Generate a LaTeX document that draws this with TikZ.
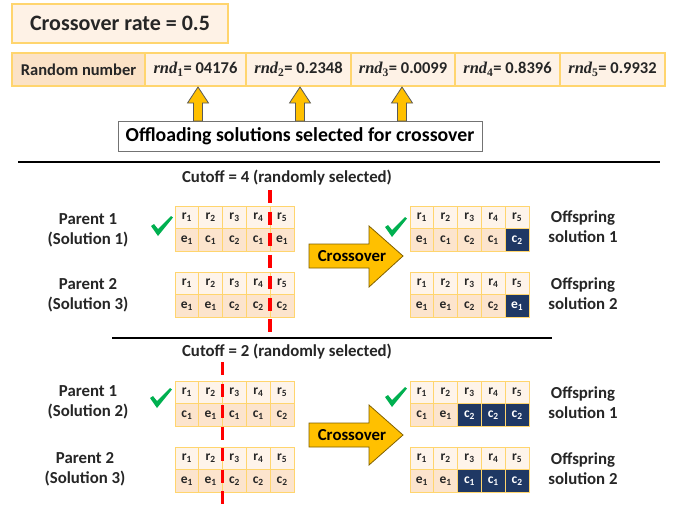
\documentclass[tikz,border=0pt]{standalone}
\usepackage{fontspec}
\setmainfont{Carlito}
\newfontfamily\rndf{Liberation Serif}
\usetikzlibrary{calc}
\definecolor{gold}{HTML}{FFD56E}
\definecolor{peach}{HTML}{FEF2E6}
\definecolor{peachd}{HTML}{FBE2C6}
\definecolor{celltop}{HTML}{FEF4EA}
\definecolor{cellbot}{HTML}{FCE4CD}
\definecolor{navy}{HTML}{1F3864}
\definecolor{amber}{HTML}{FFC000}
\definecolor{amberedge}{HTML}{7F6000}
\definecolor{okgreen}{HTML}{00B050}
\definecolor{txt}{HTML}{262626}
\newcommand\chrom[4]{%
  \foreach \k in {1,...,5}{\node[topcell] (#1t\k) at ({#2+(\k-0.5)*23.8},{#3+11.25}) {r\textsubscript{\k}};}
  \foreach \l/\d/\z [count=\k] in {#4}{%
    \ifnum\z=1\relax
      \node[darkcell] (#1b\k) at ({#2+(\k-0.5)*23.8},{#3+33.75}) {\l\textsubscript{\d}};
    \else
      \node[botcell] (#1b\k) at ({#2+(\k-0.5)*23.8},{#3+33.75}) {\l\textsubscript{\d}};
    \fi}}
\newcommand\rnd[2]{{\rndf\bfseries\itshape rnd}\textsubscript{\rndf\bfseries #1}= #2}
\tikzset{
  box/.style={draw=gold, line width=1.2pt, fill=peach, inner sep=0, text=txt,
    font=\fontsize{16.5}{18}\selectfont\bfseries},
  lab/.style={align=center, text=txt, inner sep=0, font=\fontsize{16.8}{20}\selectfont\bfseries},
  cell/.style={draw=gold, line width=0.8pt, minimum width=23.8pt, minimum height=22.5pt,
    inner sep=0, text=txt, font=\fontsize{13.5}{14}\selectfont\bfseries},
  topcell/.style={cell, fill=celltop},
  botcell/.style={cell, fill=cellbot},
  darkcell/.style={cell, fill=navy, text=white},
  cutline/.style={red, line width=3.5pt, dash pattern=on 13pt off 8.5pt},
  sepline/.style={black, line width=1.4pt},
  okmark/.pic={\fill[okgreen] (-11,0) -- (-8,-2) -- (-4,3) -- (9,-10) -- (11,-8.5) -- (-4,10) -- cycle;},
  uparr/.pic={\filldraw[fill=amber, draw=black!65, line width=0.8pt]
    (0,0) -- (10.5,16) -- (4.5,16) -- (4.5,34) -- (-4.5,34) -- (-4.5,16) -- (-10.5,16) -- cycle;},
}
\begin{document}
\begin{tikzpicture}[x=1pt,y=-1pt]
\useasboundingbox[fill=white] (0,0) rectangle (676,507);

% header
\node[box, minimum width=216pt, minimum height=39pt, font=\fontsize{22}{24}\selectfont\bfseries] (rate) at (120,23.5) {Crossover rate = 0.5};

\node[box, fill=peachd, minimum width=133pt, minimum height=33pt] (rn) at (78.5,69.5) {Random number};
\node[box, minimum width=101pt, minimum height=33pt] (rnd1) at (195.5,69.5) {\rnd{1}{04176}};
\node[box, minimum width=105pt, minimum height=33pt] (rnd2) at (298.5,69.5) {\rnd{2}{0.2348}};
\node[box, minimum width=104pt, minimum height=33pt] (rnd3) at (403,69.5) {\rnd{3}{0.0099}};
\node[box, minimum width=105pt, minimum height=33pt] (rnd4) at (507.5,69.5) {\rnd{4}{0.8396}};
\node[box, minimum width=105pt, minimum height=33pt] (rnd5) at (612.5,69.5) {\rnd{5}{0.9932}};

\node[draw=black!55, line width=1pt, fill=white, minimum width=364pt, minimum height=30pt, inner sep=0,
  text=black, font=\fontsize{19.8}{22}\selectfont\bfseries] (off) at (300,136) {Offloading solutions selected for crossover};

\pic at (198,87) {uparr};
\pic at (300,87) {uparr};
\pic at (402,87) {uparr};

% separators
\coordinate (s1a) at (18,162); \coordinate (s1b) at (660,162);
\draw[sepline] (s1a) -- (s1b);
\coordinate (s2a) at (112,338); \coordinate (s2b) at (552,338);
\draw[sepline] (s2a) -- (s2b);

% ---------- section 1
\node[lab] (cut4) at (287,178) {Cutoff = 4 (randomly selected)};
\node[lab] (p11) at (88,230) {Parent 1\\(Solution 1)};
\node[lab] (p12) at (88,295) {Parent 2\\(Solution 3)};
\node[lab] (o11) at (583,227) {Offspring\\solution 1};
\node[lab] (o12) at (583,294) {Offspring\\solution 2};

\chrom{A}{175}{206}{e/1/0,c/1/0,c/2/0,c/1/0,e/1/0}
\chrom{B}{175}{272}{e/1/0,e/1/0,c/2/0,c/2/0,c/2/0}
\chrom{C}{410}{206}{e/1/0,c/1/0,c/2/0,c/1/0,c/2/1}
\chrom{D}{410}{272}{e/1/0,e/1/0,c/2/0,c/2/0,e/1/1}

\filldraw[fill=amber, draw=amberedge, line width=0.8pt]
  (309,244) -- (369,244) -- (369,226) -- (403,256) -- (369,287) -- (369,268) -- (309,268) -- cycle;
\node[lab, text=black] (x1) at (352,256) {Crossover};

\pic at (162,226) {okmark};
\pic at (396,227) {okmark};

\coordinate (c1a) at (270,190); \coordinate (c1b) at (270,336);
\draw[cutline] (c1a) -- (c1b);

% ---------- section 2
\node[lab] (cut2) at (287,352) {Cutoff = 2 (randomly selected)};
\node[lab] (p21) at (88,402) {Parent 1\\(Solution 2)};
\node[lab] (p22) at (85,469) {Parent 2\\(Solution 3)};
\node[lab] (o21) at (583,403) {Offspring\\solution 1};
\node[lab] (o22) at (583,469) {Offspring\\solution 2};

\chrom{E}{175}{381}{c/1/0,e/1/0,c/1/0,c/1/0,c/2/0}
\chrom{F}{175}{447}{e/1/0,e/1/0,c/2/0,c/2/0,c/2/0}
\chrom{G}{410}{381}{c/1/0,e/1/0,c/2/1,c/2/1,c/2/1}
\chrom{H}{410}{447}{e/1/0,e/1/0,c/1/1,c/1/1,c/2/1}

\filldraw[fill=amber, draw=amberedge, line width=0.8pt]
  (309,423) -- (369,423) -- (369,405) -- (403,435) -- (369,465) -- (369,447) -- (309,447) -- cycle;
\node[lab, text=black] (x2) at (352,435) {Crossover};

\pic at (161,398) {okmark};
\pic at (396,397) {okmark};

\coordinate (c2a) at (222.6,362); \coordinate (c2b) at (222.6,507);
\draw[cutline] (c2a) -- (c2b);
\end{tikzpicture}
\end{document}
